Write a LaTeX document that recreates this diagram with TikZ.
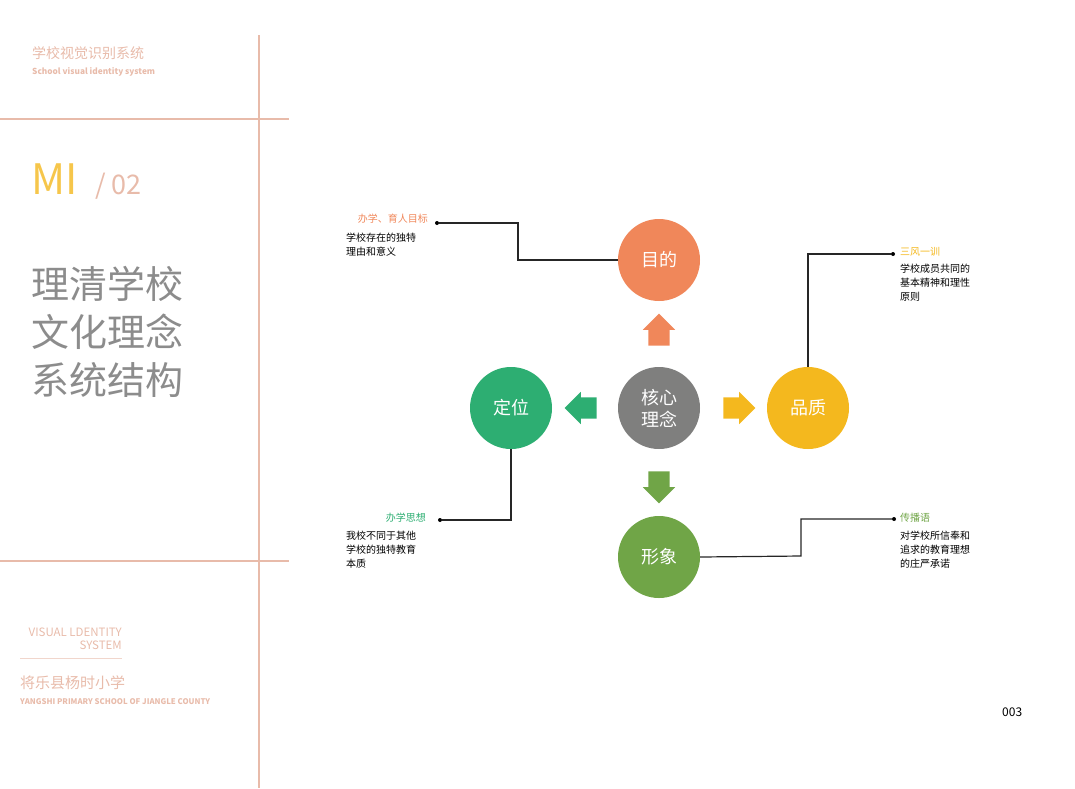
\documentclass[tikz,border=0pt]{standalone}
\usepackage{fontspec}
\setmainfont{Noto Sans CJK SC}
\usetikzlibrary{shapes.arrows, positioning}
\definecolor{rule}{HTML}{E8BBAA}
\definecolor{cOrange}{HTML}{F0875A}
\definecolor{cGray}{HTML}{7F7F7E}
\definecolor{cYellow}{HTML}{F4B81E}
\definecolor{cGreen}{HTML}{2DAE72}
\definecolor{cOlive}{HTML}{70A547}
\definecolor{cTitle}{HTML}{8C8C8C}

\begin{document}
\begin{tikzpicture}[
  x=1pt, y=-1pt,
  corenode/.style={circle, minimum size=82pt, inner sep=0pt, text=white, font=\fontsize{18}{22}\selectfont, align=center},
  blockarrow/.style={single arrow, minimum height=32pt, single arrow head extend=5.5pt, inner sep=10.5pt, shape border rotate=#1},
  link/.style={line width=1.2pt, black!85},
  tag/.style={font=\fontsize{10}{12}\selectfont, inner sep=0pt},
  desc/.style={font=\fontsize{10}{14}\selectfont, inner sep=0pt, align=left, anchor=north west},
  dot/.style={circle, fill=black, inner sep=0pt, minimum size=4pt}
]
\useasboundingbox (0,0) rectangle (1075,788);

% frame lines
\draw[rule, line width=1.5pt] (259,35) -- (259,788);
\draw[rule, line width=1.5pt] (0,119) -- (289,119);
\draw[rule, line width=1.5pt] (0,561) -- (289,561);
\draw[rule!60, line width=0.6pt] (20,658) -- (122,658);

% left column texts
\node[anchor=west, inner sep=0pt, text=rule, font=\fontsize{14}{16}\selectfont] (sysCN) at (32,53) {学校视觉识别系统};
\node[anchor=west, inner sep=0pt, text=rule, font=\fontsize{8.3}{9}\selectfont\bfseries] (sysEN) at (32,72) {School visual identity system};
\node[anchor=base west, inner sep=0pt, text=cYellow!80, font=\fontsize{42}{44}\selectfont] (MI) at (31,194) {MI};
\node[anchor=base west, inner sep=0pt, text=rule, font=\fontsize{27}{30}\selectfont] (pageNo) at (95,194) {/ 02};
\node[anchor=north west, inner sep=0pt, align=left, text=cTitle, font=\fontsize{38}{48}\selectfont] (title) at (31,266) {理清学校\\文化理念\\系统结构};
\node[anchor=east, inner sep=0pt, align=right, text=rule, font=\fontsize{11.5}{13}\selectfont] (visEN) at (122,639) {VISUAL LDENTITY\\SYSTEM};
\node[anchor=west, inner sep=0pt, text=rule, font=\fontsize{15}{17}\selectfont] (school) at (20,683) {将乐县杨时小学};
\node[anchor=west, inner sep=0pt, text=rule, font=\fontsize{7.8}{8}\selectfont\bfseries] (schoolEN) at (20,702) {YANGSHI PRIMARY SCHOOL OF JIANGLE COUNTY};
\node[anchor=west, inner sep=0pt, font=\fontsize{12}{14}\selectfont] (num) at (1002,712) {003};

% core circles
\node[corenode, fill=cGray]   (core)  at (659,408) {核心\\理念};
\node[corenode, fill=cOrange] (aim)   at (659,260) {目的};
\node[corenode, fill=cYellow] (qual)  at (808,408) {品质};
\node[corenode, fill=cGreen]  (pos)   at (511,408) {定位};
\node[corenode, fill=cOlive]  (image) at (659,557) {形象};

% block arrows
\node[blockarrow=90,  fill=cOrange] (upA)    at (659,335) {};
\node[blockarrow=0,   fill=cYellow] (rightA) at (734,408) {};
\node[blockarrow=180, fill=cGreen]  (leftA)  at (586,408) {};
\node[blockarrow=270, fill=cOlive]  (downA)  at (659,482) {};

% callout dots
\node[dot] (dAim)   at (437,223) {};
\node[dot] (dQual)  at (893,254) {};
\node[dot] (dPos)   at (440,520) {};
\node[dot] (dImage) at (894,519) {};

% callout lines
\draw[link] (aim.west) -- (518,260) |- (dAim);
\draw[link] (qual.north) |- (dQual);
\draw[link] (pos.south) |- (dPos);
\draw[link] (image.east) -- (801,556) |- (dImage);

% callout texts
\node[tag, anchor=east, text=cOrange] (tAim) at (428,219) {办学、育人目标};
\node[desc] (xAim) at (346,233) {学校存在的独特\\理由和意义};
\node[tag, anchor=west, text=cYellow] (tQual) at (900,252) {三风一训};
\node[desc] (xQual) at (900,264) {学校成员共同的\\基本精神和理性\\原则};
\node[tag, anchor=east, text=cGreen] (tPos) at (426,518) {办学思想};
\node[desc] (xPos) at (346,531) {我校不同于其他\\学校的独特教育\\本质};
\node[tag, anchor=west, text=cOlive] (tImage) at (900,518) {传播语};
\node[desc] (xImage) at (900,531) {对学校所信奉和\\追求的教育理想\\的庄严承诺};

\end{tikzpicture}
\end{document}
